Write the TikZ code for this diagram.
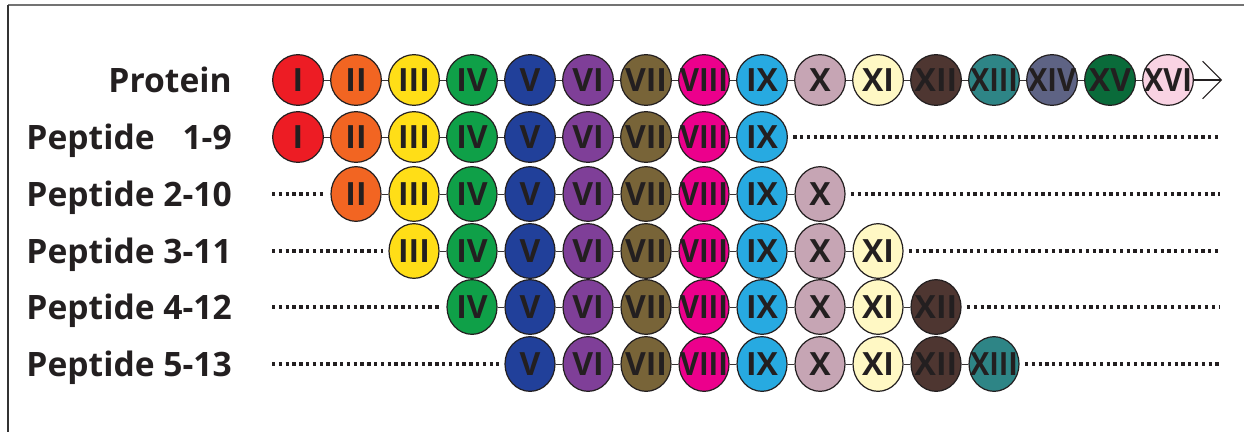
\documentclass[tikz,border=0pt]{standalone}
\usepackage{fontspec}
\setmainfont{Open Sans}
\usepackage{calc}
\usetikzlibrary{arrows.meta,shapes}
\definecolor{resc1}{HTML}{ED1C24}
\definecolor{resc2}{HTML}{F26522}
\definecolor{resc3}{HTML}{FFDE17}
\definecolor{resc4}{HTML}{0FA048}
\definecolor{resc5}{HTML}{21409A}
\definecolor{resc6}{HTML}{7F3F98}
\definecolor{resc7}{HTML}{786438}
\definecolor{resc8}{HTML}{EC008C}
\definecolor{resc9}{HTML}{27AAE1}
\definecolor{resc10}{HTML}{C6A5B4}
\definecolor{resc11}{HTML}{FFF8C4}
\definecolor{resc12}{HTML}{4E3631}
\definecolor{resc13}{HTML}{2E8586}
\definecolor{resc14}{HTML}{5E6384}
\definecolor{resc15}{HTML}{0A6B3A}
\definecolor{resc16}{HTML}{F9D3E3}
\definecolor{inkdark}{HTML}{231F20}
\newlength\romw
\setlength\romw{36pt}
\newcommand\romof[1]{\ifcase#1\or I\or II\or III\or IV\or V\or VI\or VII\or VIII\or IX\or X\or XI\or XII\or XIII\or XIV\or XV\or XVI\fi}
\newcommand\romfit[1]{\sbox0{#1}\ifdim\wd0>\romw\pgfmathsetmacro\romr{\the\romw/\the\wd0}\scalebox{\romr}[1]{\usebox0}\else\usebox0\fi}
\tikzset{
  resnode/.style={circle,draw=inkdark,line width=0.9pt,minimum size=38pt,inner sep=0pt},
  pepnode/.style={resnode,ellipse,minimum width=37.5pt,minimum height=41pt},
  romtext/.style={inner sep=0pt,font=\bfseries\fontsize{24}{24}\selectfont,text=inkdark},
  linkedge/.style={draw=inkdark!90,line width=0.7pt},
  fillerdots/.style={inkdark,line width=2.5pt,dash pattern=on 2.5pt off 2.6pt},
  chainarrow/.style={-{Straight Barb[length=14pt,width=28pt]},line width=0.8pt,inkdark},
  rowlabel/.style={anchor=base east,inner sep=0pt,font=\bfseries\fontsize{25.2}{25.2}\selectfont,text=inkdark},
  framerule/.style={line width=1.1pt},
}

\begin{document}
\begin{tikzpicture}[x=0.75pt,y=-0.75pt]
  \useasboundingbox (0,0) rectangle (1244,432);
  \draw[framerule,black!55] (8,5) -- (1244,5);
  \draw[framerule,black!80] (8,5) -- (8,432);
  % row labels
  \node[rowlabel] (lprot) at (232,92) {Protein};
  \node[rowlabel] (lpep1) at (232,149) {\makebox[\widthof{Peptide 2-10}]{Peptide\hfill 1-9}};
  \node[rowlabel] (lpep2) at (232,206) {Peptide 2-10};
  \node[rowlabel] (lpep3) at (232,263) {Peptide 3-11};
  \node[rowlabel] (lpep4) at (232,319) {Peptide 4-12};
  \node[rowlabel] (lpep5) at (232,376) {Peptide 5-13};
  % full protein chain
  \foreach \k in {1,...,16}
    \node[resnode,fill=resc\k,label={[romtext]center:\romfit{\romof{\k}}}] (p\k) at ({298+58*(\k-1)},80) {};
  \foreach \k [evaluate=\k as \j using int(\k+1)] in {1,...,15}
    \draw[linkedge] (p\k) -- (p\j);
  \coordinate (pend) at (1222,80);
  \draw[chainarrow] (p16) -- (pend);
  % peptide 1-9
  \foreach \k in {1,...,9}
    \node[resnode,fill=resc\k,label={[romtext]center:\romfit{\romof{\k}}}] (q1-\k) at ({298+58*(\k-1)},137) {};
  % peptides 2-10 to 5-13
  \foreach \r/\yy in {2/194,3/251,4/307,5/364}{
    \foreach \k in {\r,...,\numexpr\r+8\relax}
      \node[pepnode,fill=resc\k,label={[romtext]center:\romfit{\romof{\k}}}] (q\r-\k) at ({298+58*(\k-1)},\yy) {};
  }
  % links and filler dots
  \foreach \r/\yy in {1/137,2/194,3/251,4/307,5/364}{
    \foreach \k [evaluate=\k as \j using int(\k+1)] in {\r,...,\numexpr\r+7\relax}
      \draw[linkedge] (q\r-\k) -- (q\r-\j);
    \pgfmathtruncatemacro\e{\r+8}
    \coordinate (dr\r) at (1220,\yy);
    \draw[fillerdots] ([xshift=4pt]q\r-\e.east) -- (dr\r);
  }
  \foreach \r/\yy in {2/194,3/251,4/307,5/364}{
    \coordinate (dl\r) at (272,\yy);
    \draw[fillerdots] (dl\r) -- ([xshift=-4pt]q\r-\r.west);
  }
\end{tikzpicture}
\end{document}
